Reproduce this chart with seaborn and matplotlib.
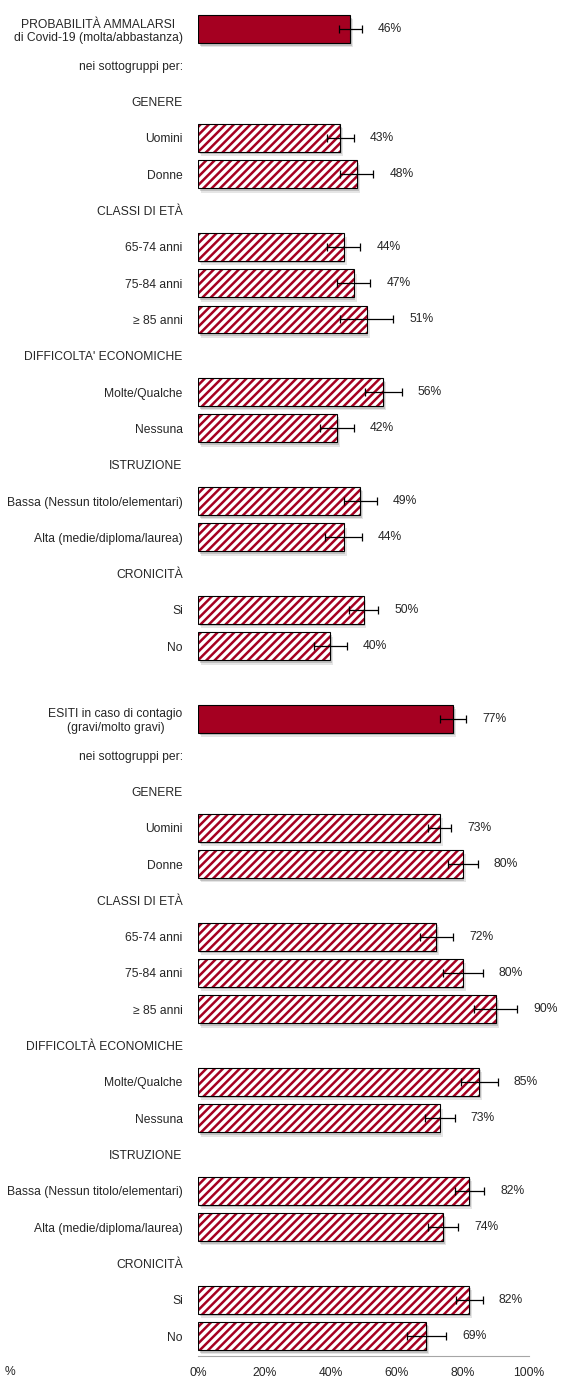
import numpy as np
import pandas as pd
import matplotlib
matplotlib.use("Agg")
import matplotlib.pyplot as plt
from matplotlib.patches import Rectangle
import seaborn as sns

# row labels, top to bottom (headers have no bar)
labels = [
    "PROBABILITÀ AMMALARSI\ndi Covid-19 (molta/abbastanza)", "nei sottogruppi per:",
    "GENERE", "Uomini", "Donne",
    "CLASSI DI ETÀ", "65-74 anni", "75-84 anni", "≥ 85 anni",
    "DIFFICOLTA' ECONOMICHE", "Molte/Qualche", "Nessuna",
    "ISTRUZIONE", "Bassa (Nessun titolo/elementari)", "Alta (medie/diploma/laurea)",
    "CRONICITÀ", "Si", "No",
    "",
    "ESITI in caso di contagio\n(gravi/molto gravi)", "nei sottogruppi per:",
    "GENERE", "Uomini", "Donne",
    "CLASSI DI ETÀ", "65-74 anni", "75-84 anni", "≥ 85 anni",
    "DIFFICOLTÀ ECONOMICHE", "Molte/Qualche", "Nessuna",
    "ISTRUZIONE", "Bassa (Nessun titolo/elementari)", "Alta (medie/diploma/laurea)",
    "CRONICITÀ", "Si", "No",
]

# rows carrying a bar
total_rows = [0, 19]
total_vals = [46, 77]
total_err = [3.5, 4]

sub_rows = [3, 4, 6, 7, 8, 10, 11, 13, 14, 16, 17,
            22, 23, 25, 26, 27, 29, 30, 32, 33, 35, 36]
sub_vals = [43, 48, 44, 47, 51, 56, 42, 49, 44, 50, 40,
            73, 80, 72, 80, 90, 85, 73, 82, 74, 82, 69]
sub_err = [4, 5, 5, 5, 8, 5.5, 5, 5, 5.5, 4.5, 5,
           3.5, 4.5, 5, 6, 6.5, 5.5, 4.5, 4.5, 4.5, 4, 6]

RED = "#a50021"

sns.set_style("white")
plt.rcParams["font.family"] = ["Liberation Sans", "DejaVu Sans"]
plt.rcParams["hatch.linewidth"] = 1.8

fig = plt.figure(figsize=(5.61, 13.77), dpi=100)
ax = fig.add_axes([198 / 561, 1 - 1356 / 1377, 331 / 561, 1356 / 1377])

rows = total_rows + sub_rows
vals = total_vals + sub_vals
errs = total_err + sub_err
df = pd.DataFrame({"row": rows, "val": vals})

sns.barplot(data=df, x="val", y="row", orient="h", native_scale=True,
            color="white", width=0.77, ax=ax, zorder=3)
bars = list(ax.patches)
for p in bars:
    center = p.get_y() + p.get_height() / 2
    # soft drop shadow (two layers)
    for dx, dy, a in [(0.9, 0.12, 0.18), (0.5, 0.07, 0.3)]:
        ax.add_patch(Rectangle((p.get_x() + dx, p.get_y() + dy), p.get_width(), p.get_height(),
                               facecolor="#707070", edgecolor="none", alpha=a, zorder=1))
    if round(center) in total_rows:
        p.set_facecolor(RED)
        p.set_edgecolor("black")
        p.set_linewidth(0.8)
    else:
        p.set_facecolor("white")
        p.set_edgecolor(RED)
        p.set_hatch("////")
        p.set_linewidth(0)
        ax.add_patch(Rectangle(p.get_xy(), p.get_width(), p.get_height(),
                               facecolor="none", edgecolor="black", linewidth=0.8, zorder=4))

# error bars and value labels
ax.errorbar(vals, rows, xerr=errs, fmt="none", ecolor="black", elinewidth=0.9,
            capsize=3, capthick=0.9, zorder=5)
for r, v, e in zip(rows, vals, errs):
    ax.text(v + e + 8.5, r, f"{v}%", ha="center", va="center", fontsize=8.7,
            clip_on=False)

ax.set_xlim(0, 100)
ax.set_ylim(37.55 - 1, -0.8)
ax.set_yticks(range(len(labels)))
ax.set_yticklabels(labels, fontsize=8.7, multialignment="center")
ax.tick_params(axis="y", length=0, pad=11)
ax.set_xticks(range(0, 101, 20))
ax.set_xticklabels([f"{t}%" for t in range(0, 101, 20)], fontsize=8.7)
ax.tick_params(axis="x", length=5, color="#a6a6a6", width=1, pad=3)
ax.set_xlabel("")
ax.set_ylabel("")
for s in ["top", "right", "left"]:
    ax.spines[s].set_visible(False)
ax.spines["bottom"].set_color("#a6a6a6")

fig.text(5 / 561, 1 - 1372 / 1377, "%", fontsize=8.7, va="center", ha="left")

fig.savefig("out.png", dpi=100)
